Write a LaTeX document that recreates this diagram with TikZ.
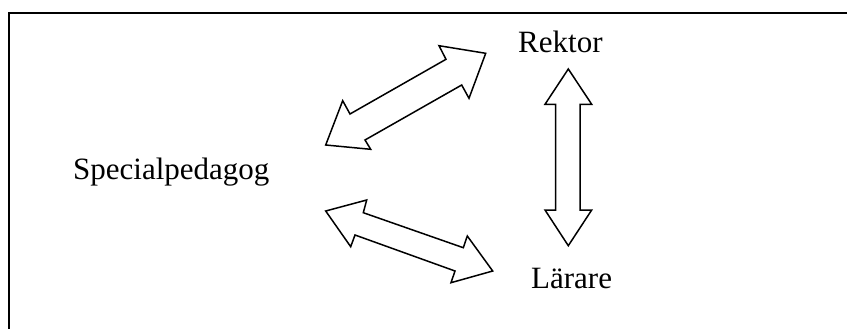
\documentclass[tikz,border=0pt]{standalone}
\usepackage{fontspec}
\setmainfont{Liberation Serif}
\begin{document}
\begin{tikzpicture}[x=1pt,y=-1pt,
  lbl/.style={anchor=base west,inner sep=0pt,font=\fontsize{31}{37}\selectfont},
  blockarrow/.style={draw=black,fill=white,line width=1.5pt,line join=miter},
  frameline/.style={draw=black,line width=2pt}]
\useasboundingbox (0,0) rectangle (847,329);
\draw[frameline] (9,329) -- (9,13) -- (847,13);
\node[lbl] (rektor) at (518,53) {Rektor};
\node[lbl] (spec) at (73,179) {Specialpedagog};
\node[lbl] (larare) at (531,288) {Lärare};
% Specialpedagog <-> Rektor
\path[blockarrow] (485.7,53.3) -- (439,45.7) -- (446,59.3) -- (350,114) -- (342.7,100.7)
  -- (325.7,145) -- (370.7,149.3) -- (365,140) -- (461.7,85) -- (469,98.3) -- cycle;
% Specialpedagog <-> Lärare
\path[blockarrow] (325.7,211) -- (366.7,200) -- (363.3,212.7) -- (463.3,247.7) -- (467.3,236)
  -- (492.7,271) -- (451,282.7) -- (455,271) -- (355,235) -- (350.7,246.7) -- cycle;
% Rektor <-> Lärare
\path[blockarrow] (568.3,69) -- (591.7,104.3) -- (580,104.3) -- (580,210) -- (591.7,210)
  -- (568.3,245.7) -- (545,210) -- (555.7,210) -- (555.7,104.3) -- (545,104.3) -- cycle;
\end{tikzpicture}
\end{document}
